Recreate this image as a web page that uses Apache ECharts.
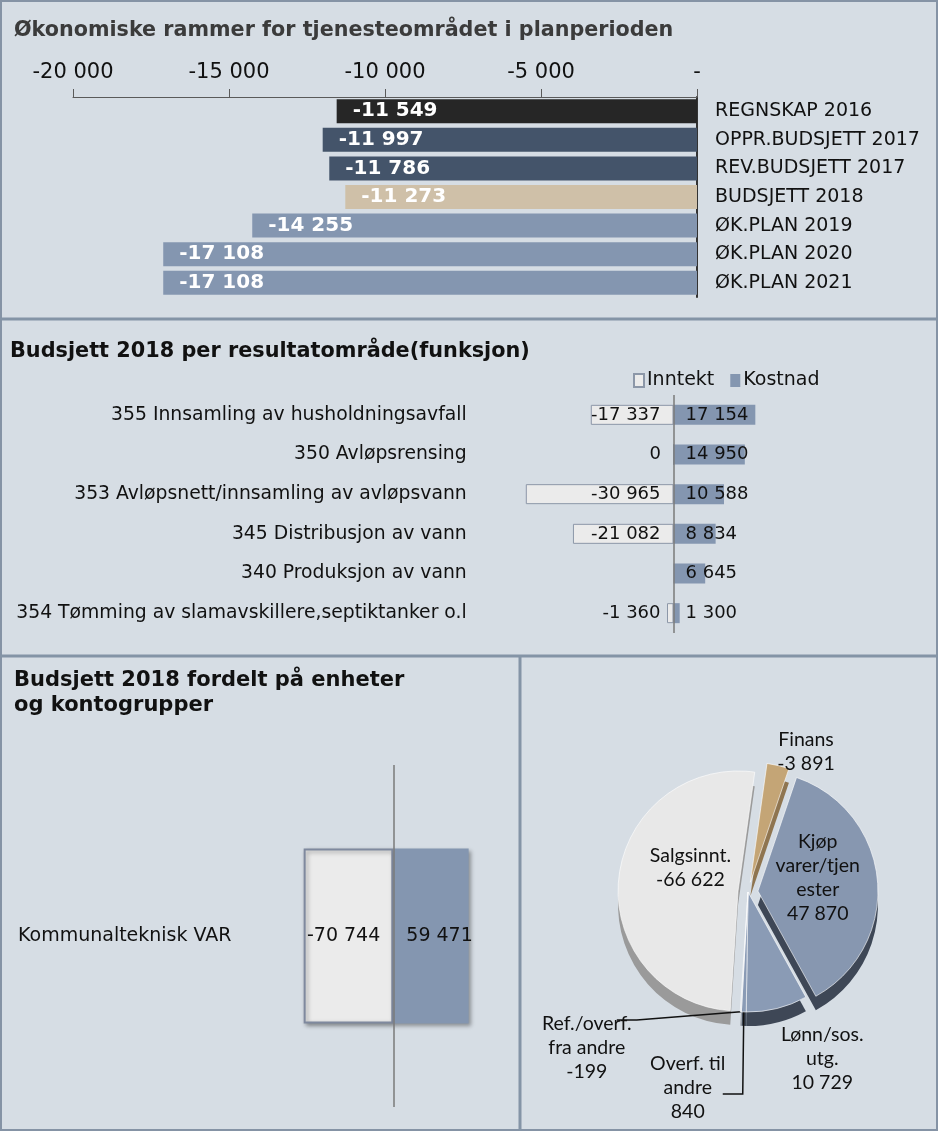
<!DOCTYPE html>
<html><head><meta charset="utf-8">
<script src="https://cdn.jsdelivr.net/npm/echarts@6/dist/echarts.min.js"></script>
<style>html,body{margin:0;padding:0;background:#d6dde4}#c{width:938px;height:1131px}</style>
</head><body><div id="c"></div>
<script>
// ---- data ----
const periodCategories = ['REGNSKAP 2016','OPPR.BUDSJETT 2017','REV.BUDSJETT 2017','BUDSJETT 2018','ØK.PLAN 2019','ØK.PLAN 2020','ØK.PLAN 2021'];
const periodValues = [-11549,-11997,-11786,-11273,-14255,-17108,-17108];
const periodTicks = [-20000,-15000,-10000,-5000,0];

const functionCategories = ['355 Innsamling av husholdningsavfall','350 Avløpsrensing','353 Avløpsnett/innsamling av avløpsvann','345 Distribusjon av vann','340 Produksjon av vann','354 Tømming av slamavskillere,septiktanker o.l'];
const inntektValues = [-17337,0,-30965,-21082,null,-1360];
const kostnadValues = [17154,14950,10588,8834,6645,1300];

const unitCategories = ['Kommunalteknisk VAR'];
const unitInntekt = [-70744];
const unitKostnad = [59471];

const pieNames = ['Finans','Kjøp varer/tjenester','Lønn/sos. utg.','Overf. til andre','Ref./overf. fra andre','Salgsinnt.'];
const pieLabelNames = ['Finans','Kjøp\nvarer/tjen\nester','Lønn/sos.\nutg.','Overf. til\nandre','Ref./overf.\nfra andre','Salgsinnt.'];
const pieValues = [-3891,47870,10729,840,-199,-66622];

// ---- styles ----
const periodColors = ['#262626','#44546a','#44546a','#cfc0a8','#8496b0','#8496b0','#8496b0'];
const pieColors = ['#c4a576','#8797b0','#8a9bb5','#8a9bb5','#dde1e8','#e8e8e8'];
const pieDepthColors = ['#8f7550','#3e4756','#3e4756','#3e4756','#9aa0a8','#9a9a9a'];
const pieExploded = [true,true,false,false,false,true];
const pieInside = [false,true,false,false,false,true];
const pieLine = [false,false,false,true,true,false];
const pieLabelShift = [[-4,15],[-3,-8],[13,21],[-30,-6],[-25,28],[15,-17]];

const FONT = 'DejaVu Sans';
function fmt(v){
  if (v === null || v === undefined || v === '-') return '';
  const s = Math.abs(v).toString().replace(/\B(?=(\d{3})+(?!\d))/g,' ');
  return (v < 0 ? '-' : '') + s;
}

const chart = echarts.init(document.getElementById('c'), null, {renderer:'canvas'});
const zeroLine = (color) => ({silent:true, symbol:'none', label:{show:false}, lineStyle:{color:color, width:1.5, type:'solid'}, data:[{xAxis:0}]});

const option = {
  animation:false,
  backgroundColor:'#d6dde4',
  title:[
    {text:'Økonomiske rammer for tjenesteområdet i planperioden', left:9, top:15, textStyle:{fontFamily:FONT, fontWeight:'bold', fontSize:20.7, color:'#3b3b3b'}},
    {text:'Budsjett 2018 per resultatområde(funksjon)', left:5, top:336, textStyle:{fontFamily:FONT, fontWeight:'bold', fontSize:20.8, color:'#111'}},
    {text:'Budsjett 2018 fordelt på enheter\nog kontogrupper', left:9, top:663, textStyle:{fontFamily:FONT, fontWeight:'bold', fontSize:21, lineHeight:25, color:'#111'}}
  ],
  legend:{data:['Inntekt','Kostnad'], left:628, top:366, icon:'rect', itemWidth:10, itemHeight:13, itemGap:16,
    textStyle:{fontFamily:FONT, fontSize:19, color:'#111', padding:[0,0,0,-2]}},
  grid:[
    {left:73, width:624, top:97, height:200},
    {left:482.7, width:381.6, top:395, height:238},
    {left:266.6, width:253.4, top:765, height:342}
  ],
  xAxis:[
    {gridIndex:0, type:'value', position:'top', min:periodTicks[0], max:periodTicks[periodTicks.length-1], interval:5000,
      axisLine:{show:true, lineStyle:{color:'#5a5a5a'}}, axisTick:{show:true, length:8, lineStyle:{color:'#5a5a5a'}},
      splitLine:{show:false},
      axisLabel:{margin:14, fontSize:21, fontFamily:FONT, color:'#111', formatter:v => v === 0 ? '-' : fmt(v)}},
    {gridIndex:1, type:'value', min:-40000, max:40000, show:false},
    {gridIndex:2, type:'value', min:-100000, max:100000, show:false}
  ],
  yAxis:[
    {gridIndex:0, type:'category', data:periodCategories, inverse:true, position:'right',
      axisLine:{show:true, lineStyle:{color:'#333', width:2}}, axisTick:{show:false},
      axisLabel:{margin:18, fontSize:19, fontFamily:FONT, color:'#111'}},
    {gridIndex:1, type:'category', data:functionCategories, inverse:true,
      axisLine:{show:false}, axisTick:{show:false},
      axisLabel:{margin:16, fontSize:18.8, fontFamily:FONT, color:'#111'}},
    {gridIndex:2, type:'category', data:unitCategories,
      axisLine:{show:false}, axisTick:{show:false},
      axisLabel:{align:'left', margin:248.6, fontSize:19, fontFamily:FONT, color:'#111'}}
  ],
  graphic:[
    {type:'rect', silent:true, z:100, shape:{x:1,y:1,width:936,height:1129}, style:{fill:null, stroke:'#8593a5', lineWidth:2}},
    {type:'line', silent:true, z:100, shape:{x1:0,y1:319,x2:938,y2:319}, style:{stroke:'#8494a6', lineWidth:3}},
    {type:'line', silent:true, z:100, shape:{x1:0,y1:656,x2:938,y2:656}, style:{stroke:'#8494a6', lineWidth:3}},
    {type:'line', silent:true, z:100, shape:{x1:520,y1:656,x2:520,y2:1131}, style:{stroke:'#8494a6', lineWidth:3}}
  ],
  series:[
    {type:'bar', xAxisIndex:0, yAxisIndex:0, barCategoryGap:'16%',
      data: periodValues.map((v,i)=>({value:v, itemStyle:{color:periodColors[i]}})),
      label:{show:true, position:'insideLeft', distance:16, color:'#fff', fontWeight:'bold', fontSize:20, fontFamily:FONT, formatter:p=>fmt(p.value)}},
    {type:'bar', name:'Inntekt', xAxisIndex:1, yAxisIndex:1, barWidth:20, barGap:'-100%', data:inntektValues,
      itemStyle:{color:'#ebebeb', borderColor:'#8c97a8', borderWidth:1},
      label:{show:true, position:'insideRight', distance:13, color:'#111', fontSize:18, fontFamily:FONT, formatter:p=>fmt(p.value)}},
    {type:'bar', name:'Kostnad', xAxisIndex:1, yAxisIndex:1, barWidth:20, barGap:'-100%', data:kostnadValues,
      itemStyle:{color:'#8496b0'},
      label:{show:true, position:'insideLeft', distance:12, color:'#111', fontSize:18, fontFamily:FONT, formatter:p=>fmt(p.value)},
      markLine: zeroLine('#7a7a7a')},
    {type:'bar', name:'Inntekt enhet', xAxisIndex:2, yAxisIndex:2, barWidth:175, barGap:'-100%', data:unitInntekt,
      itemStyle:{color:'#ebebeb', borderColor:'#7f899e', borderWidth:2, shadowBlur:4, shadowColor:'rgba(0,0,0,0.35)', shadowOffsetX:2, shadowOffsetY:2},
      label:{show:true, position:'insideRight', distance:13, color:'#111', fontSize:19, fontFamily:FONT, formatter:p=>fmt(p.value)}},
    {type:'bar', name:'Kostnad enhet', xAxisIndex:2, yAxisIndex:2, barWidth:175, barGap:'-100%', data:unitKostnad,
      itemStyle:{color:'#8496b0', shadowBlur:4, shadowColor:'rgba(0,0,0,0.35)', shadowOffsetX:2, shadowOffsetY:2},
      label:{show:true, position:'insideLeft', distance:13, color:'#111', fontSize:19, fontFamily:FONT, formatter:p=>fmt(p.value)},
      markLine: zeroLine('#7a7a7a')},
    {type:'pie', name:'depth', silent:true, z:1, center:[748, 906], radius:120, startAngle:82, clockwise:true,
      selectedMode:'multiple', selectedOffset:10,
      label:{show:false}, labelLine:{show:false},
      data: pieNames.map((n,i)=>({name:n, value:Math.abs(pieValues[i]), selected:pieExploded[i], itemStyle:{color:pieDepthColors[i]}}))},
    {type:'pie', name:'pie', z:2, center:[748, 892], radius:120, startAngle:82, clockwise:true,
      selectedMode:'multiple', selectedOffset:10,
      itemStyle:{borderColor:'rgba(255,255,255,0.6)', borderWidth:1},
      label:{fontFamily:'Lato', fontSize:19.5, lineHeight:24, color:'#111', align:'center',
        formatter:p=>pieLabelNames[p.dataIndex] + '\n' + fmt(pieValues[p.dataIndex])},
      labelLine:{lineStyle:{color:'#111', width:1.5}, length:30, length2:20},
      labelLayout: p => ({dx: pieLabelShift[p.dataIndex][0], dy: pieLabelShift[p.dataIndex][1], align:'center'}),
      data: pieNames.map((n,i)=>({name:n, value:Math.abs(pieValues[i]), selected:pieExploded[i],
        itemStyle:{color:pieColors[i]},
        label:{position: pieInside[i] ? 'inside' : 'outside'},
        labelLine:{show: pieLine[i]}}))}
  ]
};
chart.setOption(option);
</script></body></html>
